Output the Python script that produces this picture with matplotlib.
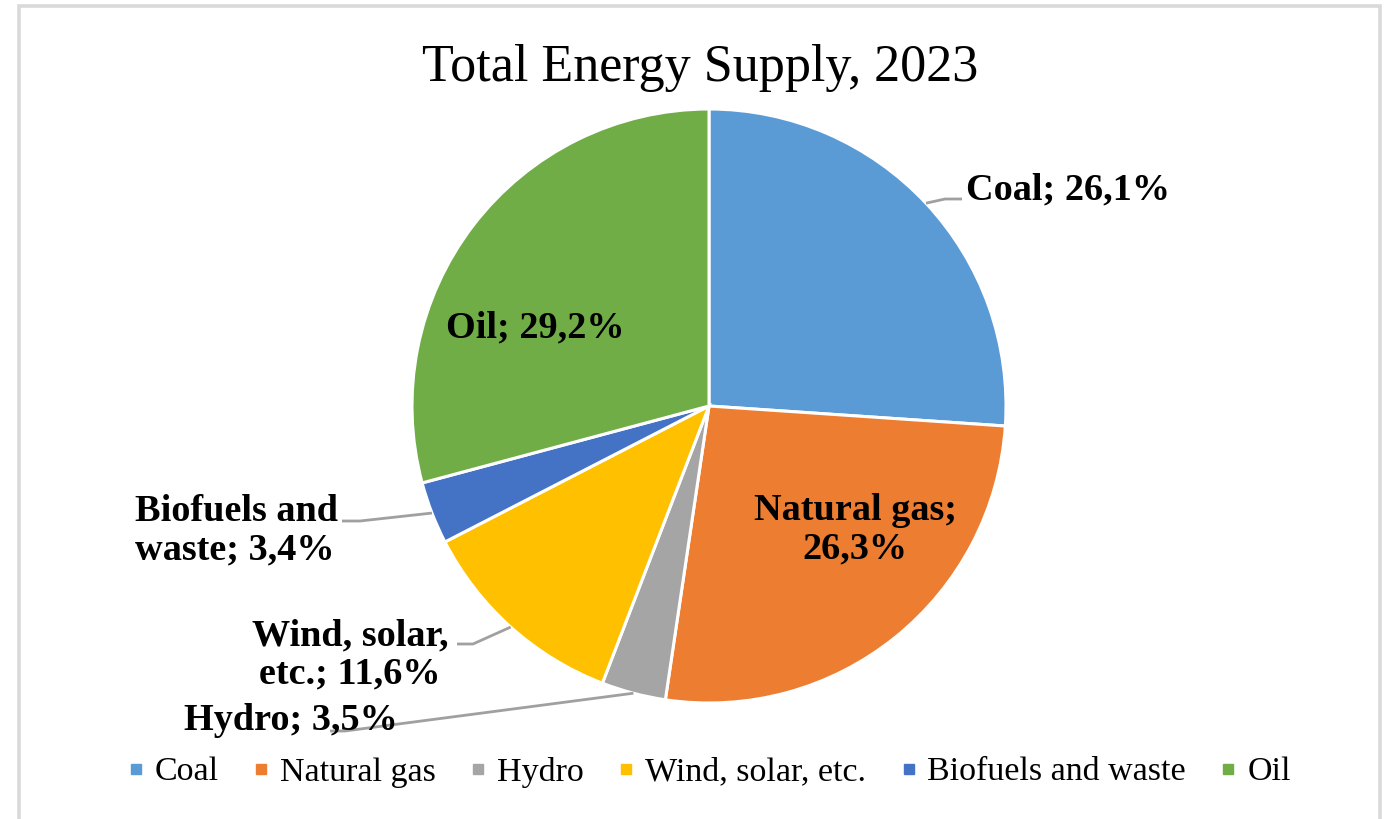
import matplotlib.pyplot as plt
from matplotlib.lines import Line2D
from matplotlib.patches import Rectangle
import numpy as np

plt.rcParams['font.family'] = ['Liberation Serif', 'DejaVu Serif']

sources = ["Coal", "Natural gas", "Hydro", "Wind, solar, etc.", "Biofuels and waste", "Oil"]
shares = [26.1, 26.3, 3.5, 11.6, 3.4, 29.2]
labels = ["Coal; 26,1%", "Natural gas;\n26,3%", "Hydro; 3,5%",
          "Wind, solar,\netc.; 11,6%", "Biofuels and\nwaste; 3,4%", "Oil; 29,2%"]
colors = ["#5B9BD5", "#ED7D31", "#A5A5A5", "#FFC000", "#4472C4", "#70AD47"]

W, H = 1391, 819
fig = plt.figure(figsize=(W / 100, H / 100), dpi=100)
ax = fig.add_axes([0, 0, 1, 1])
ax.set_xlim(0, W)
ax.set_ylim(0, H)
ax.set_aspect('equal')
ax.axis('off')

# outer frame, open at the bottom edge
ax.add_patch(Rectangle((19, -20), 1361, H - 6 + 20, fill=False,
                       edgecolor="#D9D9D9", lw=2.6))

cx, cy, r = 709, 413, 297
wedges, _ = ax.pie(shares, colors=colors, startangle=90, counterclock=False,
                   center=(cx, cy), radius=r, frame=True,
                   wedgeprops=dict(edgecolor="white", linewidth=2.2))
ax.set_xlim(0, W)
ax.set_ylim(0, H)
ax.axis('off')

ax.text(700, H - 68, "Total Energy Supply, 2023", ha='center', va='center',
        fontsize=37.5)

lab_font = dict(fontsize=27.5, fontweight='bold', linespacing=1.12)

# labels inside the slices
ax.text(855, H - 530, labels[1], ha='center', va='center', **lab_font)
ax.text(535, H - 328, labels[5], ha='center', va='center', **lab_font)

# outside labels with leader lines: (index, text anchor, elbow, line end, ha)
outside = [
    (0, (966, H - 190), (945, H - 199), (962, H - 199), 'left'),
    (2, (398, H - 720), (345, H - 731), (330, H - 731), 'right'),
    (3, (350, H - 655), (473, H - 644), (457, H - 644), 'center'),
    (4, (135, H - 531), (360, H - 521), (342, H - 521), 'left'),
]
for i, pos, elbow, end, ha in outside:
    w = wedges[i]
    mid = np.deg2rad((w.theta1 + w.theta2) / 2)
    ex, ey = cx + r * np.cos(mid), cy + r * np.sin(mid)
    ax.plot([ex, elbow[0], end[0]], [ey, elbow[1], end[1]],
            color="#A0A0A0", lw=2.0, solid_capstyle='butt')
    ax.text(pos[0], pos[1], labels[i], ha=ha, va='center',
            multialignment='center' if ha == 'center' else 'left', **lab_font)

handles = [Line2D([], [], marker='s', linestyle='none', color=c,
                  markersize=7) for c in colors]
ax.legend(handles, sources, loc='center', bbox_to_anchor=(709 / W, (H - 772) / H),
          ncol=6, frameon=False, fontsize=24.5, handlelength=0.5,
          handletextpad=0.3, columnspacing=1.0, borderaxespad=0)

fig.savefig("out.png", dpi=100)
